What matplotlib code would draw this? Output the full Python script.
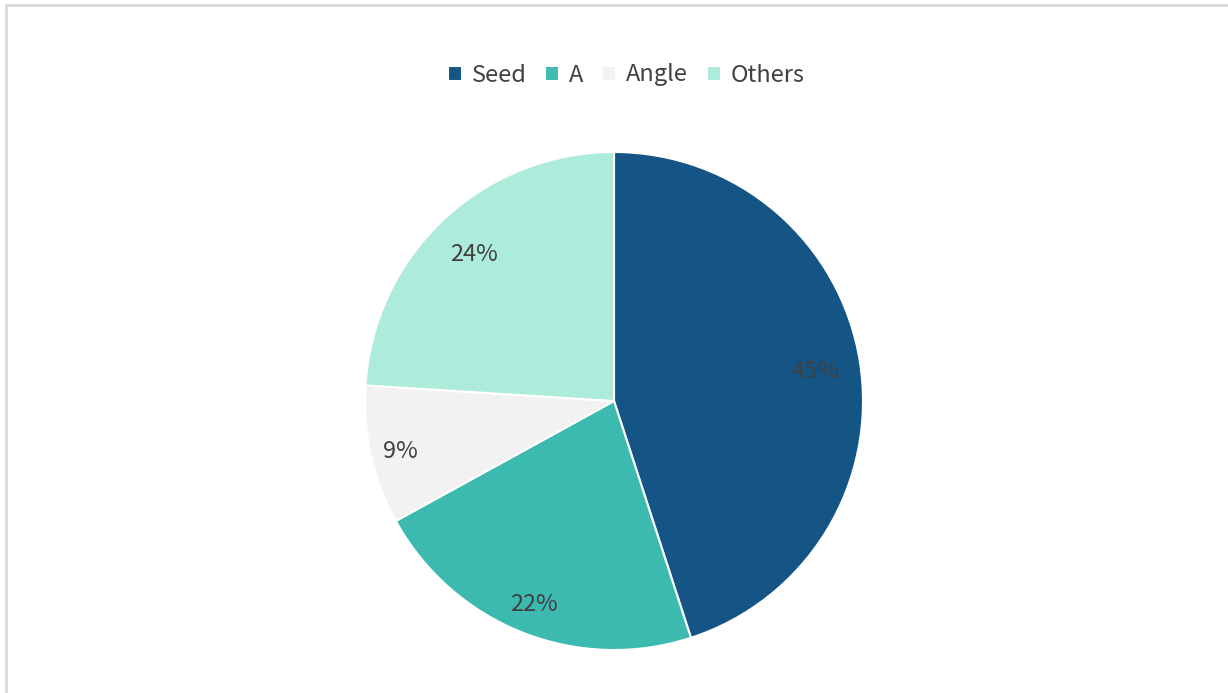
import matplotlib
matplotlib.use('Agg')
import numpy as np
import matplotlib.pyplot as plt
from matplotlib.patches import Rectangle

plt.rcParams['font.family'] = ['Noto Sans CJK SC', 'DejaVu Sans']

labels = ['Seed', 'A', 'Angle', 'Others']
values = [45, 22, 9, 24]
colors = ['#145586', '#3cbab0', '#f2f2f2', '#adebda']
label_dist = [0.82, 0.87, 0.88, 0.82]

fig = plt.figure(figsize=(12.28, 6.93), dpi=100)

# light frame, only top and left visible
fig.patches.append(Rectangle((6 / 1228, -0.1), 1.2, 1 - 5 / 693 + 0.1,
                             transform=fig.transFigure, fill=False,
                             edgecolor='#d9d9d9', linewidth=2))

ax = fig.add_axes([(614 - 249) / 1228, (693 - 401 - 249) / 693, 498 / 1228, 498 / 693])
wedges, _ = ax.pie(values, colors=colors, startangle=90, counterclock=False,
                   radius=1, wedgeprops=dict(edgecolor='white', linewidth=1.5))

for w, v, d in zip(wedges, values, label_dist):
    ang = np.deg2rad((w.theta1 + w.theta2) / 2)
    ax.text(d * np.cos(ang), d * np.sin(ang) - 0.01, f'{v}%', ha='center', va='center',
            fontsize=17, color='#404040')
ax.set_xlim(-1, 1)
ax.set_ylim(-1, 1)
ax.set_aspect('equal')
ax.axis('off')

fig.legend(wedges, labels, loc='center', bbox_to_anchor=(626 / 1228, 1 - 75 / 693),
           ncol=4, frameon=False, fontsize=17, handlelength=0.6, handleheight=0.6,
           handletextpad=0.4, columnspacing=0.8, labelcolor='#404040')

fig.savefig('out.png', dpi=100)
